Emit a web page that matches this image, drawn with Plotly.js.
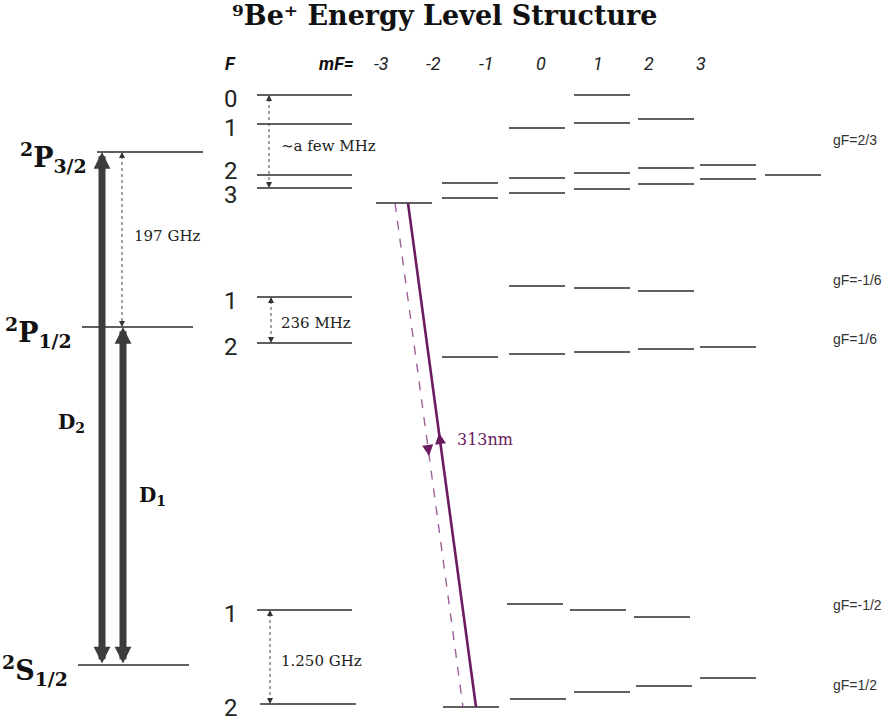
<!DOCTYPE html>
<html><head><meta charset="utf-8">
<script src="https://cdn.plot.ly/plotly-3.0.1.min.js"></script>
<style>html,body{margin:0;padding:0;background:#fff}</style>
</head><body><div id="chart" style="width:891px;height:723px"></div>
<script>
// ---- Fine-structure levels (diagram energy positions) ----
const fineLabels = ['<b><sup>2</sup>P<sub>3/2</sub></b>', '<b><sup>2</sup>P<sub>1/2</sub></b>', '<b><sup>2</sup>S<sub>1/2</sub></b>'];
const fineY  = [152, 327, 665];
const fineX0 = [97, 82, 78];
const fineX1 = [203, 193, 189];

// ---- Hyperfine F levels ----
const hfLabels = ['0','1','2','3','1','2','1','2'];
const hfY  = [95, 124, 175, 188, 297, 343, 610, 704];
const hfX0 = [257, 257, 257, 257, 257, 257, 257, 260];
const hfX1 = [352, 352, 352, 352, 352, 352, 352, 356];

// ---- Zeeman sublevels (column start, energy position) ----
const zeemanX0 = [574,
  509, 574, 638,
  442, 509, 574, 638, 700,
  376, 442, 509, 574, 638, 700, 765,
  509, 574, 638,
  442, 509, 574, 638, 700,
  507, 570, 634,
  443, 510, 574, 636, 700];
const zeemanY = [95,
  128, 123, 119,
  183, 178, 173, 168, 165,
  203, 198, 193, 189, 184, 179, 175,
  286, 288, 291,
  357, 354, 352, 349, 347,
  604, 610, 617,
  707, 699, 692, 686, 678];
const zeemanLen = 56;

// ---- Column headers ----
const mFLabels = ['-3', '-2', '-1', '0', '1', '2', '3'];
const mFLabelX = [381, 433, 486, 541, 598, 649, 701];

// ---- gF labels ----
const gFLabels = ['gF=2/3', 'gF=-1/6', 'gF=1/6', 'gF=-1/2', 'gF=1/2'];
const gFX = [831, 831, 831, 831, 831];
const gFY = [140, 280, 339, 605, 685];

// ---- Splitting intervals (dotted arrows) ----
const intLabels = ['197 GHz', '∼a few MHz', '236 MHz', '1.250 GHz'];
const intX   = [122, 269, 271, 270];
const intTop = [152, 95, 297, 610];
const intBot = [327, 188, 343, 704];
const intLabelX = [132, 279, 279, 279];
const intLabelY = [236, 146, 323, 661];

// ---- D lines ----
const dLabels = ['<b>D<sub>2</sub></b>', '<b>D<sub>1</sub></b>'];
const dX = [102, 123];
const dTop = [152, 327];
const dBot = [665, 665];
const dLabelX = [71, 152];
const dLabelY = [423, 496];

// ---- 313 nm laser beams ----
const beamSolidX = [408, 476], beamSolidY = [203, 707];
const beamDashX  = [395, 463], beamDashY  = [203, 707];

const LC = '#2b2b2b';
const PURPLE = '#6b1b60';
const serif = 'DejaVu Serif';
const sans = 'Roboto';

function segs(x0, x1, y) {
  const xs = [], ys = [];
  for (let i = 0; i < y.length; i++) { xs.push(x0[i], x1[i], null); ys.push(y[i], y[i], null); }
  return {xs, ys};
}
const traces = [];
const f = segs(fineX0, fineX1, fineY);
traces.push({x: f.xs, y: f.ys, mode: 'lines', line: {color: LC, width: 1.3}, hoverinfo: 'skip'});
const h = segs(hfX0, hfX1, hfY);
traces.push({x: h.xs, y: h.ys, mode: 'lines', line: {color: LC, width: 1.3}, hoverinfo: 'skip'});
const z = segs(zeemanX0, zeemanX0.map(v => v + zeemanLen), zeemanY);
traces.push({x: z.xs, y: z.ys, mode: 'lines', line: {color: LC, width: 1.3}, hoverinfo: 'skip'});

// dotted interval lines
const ix = [], iy = [];
for (let i = 0; i < intX.length; i++) { ix.push(intX[i], intX[i], null); iy.push(intTop[i] + 4, intBot[i] - 4, null); }
traces.push({x: ix, y: iy, mode: 'lines', line: {color: '#444', width: 1, dash: 'dot'}, hoverinfo: 'skip'});

// beams
traces.push({x: beamDashX, y: beamDashY, mode: 'lines', line: {color: 'rgba(140,70,135,0.85)', width: 1.4, dash: 'dash'}, hoverinfo: 'skip'});
traces.push({x: beamSolidX, y: beamSolidY, mode: 'lines', line: {color: PURPLE, width: 2.6}, hoverinfo: 'skip'});

const ann = [];
function txt(x, y, text, size, family, color, xanchor, extra) {
  ann.push(Object.assign({x, y, xref: 'x', yref: 'y', text, showarrow: false,
    font: {size, family, color: color || '#222'}, xanchor: xanchor || 'center', yanchor: 'middle'}, extra || {}));
}
function arrow(x, y, ax, ay, color, width, head, size) {
  ann.push({x, y, ax, ay, xref: 'x', yref: 'y', axref: 'x', ayref: 'y', text: '', showarrow: true,
    arrowcolor: color, arrowwidth: width, arrowhead: head, arrowsize: size, standoff: 0, startstandoff: 0});
}
function dblArrow(x, yTop, yBot, color, width, head, size) {
  ann.push({x, y: yTop, ax: x, ay: yBot, xref: 'x', yref: 'y', axref: 'x', ayref: 'y', text: '', showarrow: true,
    arrowcolor: color, arrowwidth: width, arrowhead: head, arrowsize: size, arrowside: 'end+start',
    startarrowhead: head, startarrowsize: size, standoff: 0, startstandoff: 0});
}

// title
txt(445, 15, '<b>⁹Be⁺ Energy Level Structure</b>', 27, serif, '#111', 'center');
// fine labels
for (let i = 0; i < fineLabels.length; i++) txt(fineX0[i] - 8, fineY[i] + 5, fineLabels[i], 27, serif, '#111', 'right');
// D arrows
for (let i = 0; i < dX.length; i++) {
  dblArrow(dX[i], dTop[i], dBot[i], '#3a3d3c', 7, 2, 0.48);
  txt(dLabelX[i], dLabelY[i], dLabels[i], 20, serif, '#111', 'center');
}
// hyperfine labels
for (let i = 0; i < hfLabels.length; i++) txt(231, hfY[i] + (i === 2 ? -4 : (i === 3 ? 7 : 4)), hfLabels[i], 24, sans, '#222', 'center');
// headers
txt(230, 63, '<b><i>F</i></b>', 18, sans, '#111', 'center');
txt(356, 63, '<b><i>mF=</i></b>', 18, sans, '#111', 'right');
for (let i = 0; i < mFLabels.length; i++) txt(mFLabelX[i], 63, '<i>' + mFLabels[i] + '</i>', 18, sans, '#222', 'center');
// gF labels
for (let i = 0; i < gFLabels.length; i++) txt(gFX[i], gFY[i], gFLabels[i], 14, 'Liberation Sans', '#333', 'left');
// interval arrows heads + labels
for (let i = 0; i < intX.length; i++) {
  arrow(intX[i], intTop[i], intX[i], intTop[i] + 7, '#333', 1, 2, 1.2);
  arrow(intX[i], intBot[i], intX[i], intBot[i] - 7, '#333', 1, 2, 1.2);
  txt(intLabelX[i], intLabelY[i], intLabels[i], 15, serif, '#222', 'left');
}
// beam arrowheads
const sl = (beamSolidX[1] - beamSolidX[0]) / (beamSolidY[1] - beamSolidY[0]);
const dl = (beamDashX[1] - beamDashX[0]) / (beamDashY[1] - beamDashY[0]);
const ySolidTip = 433, yDashTip = 456;
arrow(beamSolidX[0] + sl * (ySolidTip - beamSolidY[0]), ySolidTip, beamSolidX[0] + sl * (ySolidTip + 12 - beamSolidY[0]), ySolidTip + 12, PURPLE, 2.6, 2, 0.85);
arrow(beamDashX[0] + dl * (yDashTip - beamDashY[0]), yDashTip, beamDashX[0] + dl * (yDashTip - 12 - beamDashY[0]), yDashTip - 12, PURPLE, 2.6, 2, 0.85);
txt(455, 439, '313nm', 16, serif, PURPLE, 'left');

const layout = {
  width: 891, height: 723,
  margin: {l: 0, r: 0, t: 0, b: 0},
  paper_bgcolor: '#fff', plot_bgcolor: '#fff',
  showlegend: false,
  xaxis: {range: [0, 891], visible: false, fixedrange: true},
  yaxis: {range: [723, 0], visible: false, fixedrange: true},
  annotations: ann
};
Plotly.newPlot('chart', traces, layout, {displayModeBar: false, staticPlot: true});
</script></body></html>
